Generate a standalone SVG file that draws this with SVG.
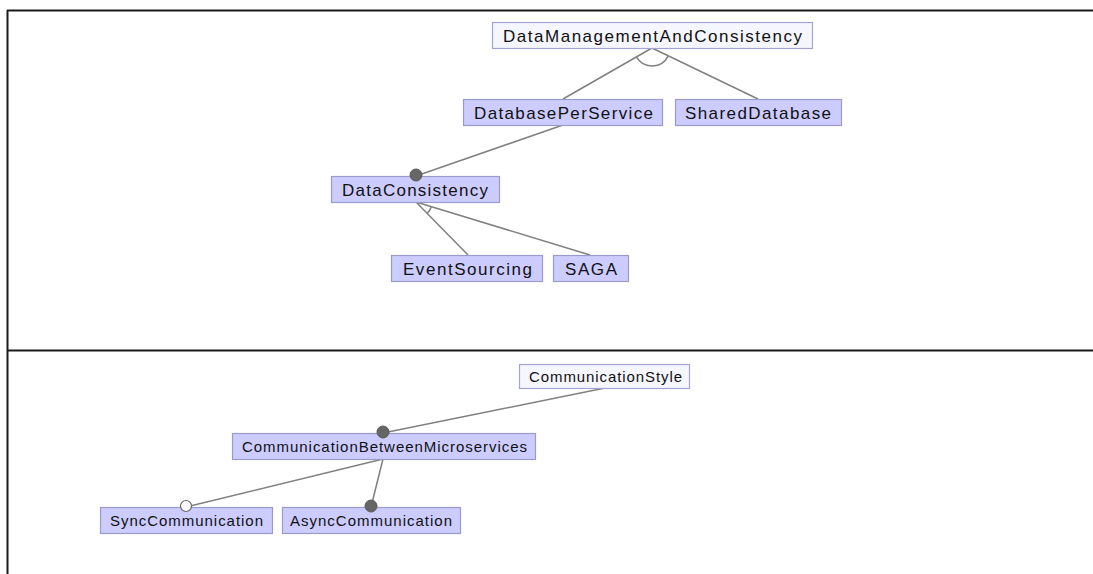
<svg xmlns="http://www.w3.org/2000/svg" width="1093" height="574" viewBox="0 0 1093 574">
  <defs>
    <style>
      .frame { stroke: #1a1a1a; stroke-width: 2; fill: none; }
      .edge { stroke: #808080; stroke-width: 1.5; fill: none; }
      .node rect { fill: #ccccff; stroke: #9a9acd; stroke-width: 1.2; }
      .node.root rect { fill: #f6f6ff; stroke: #a4a4d4; }
      .node text { font-family: "Liberation Sans", Arial, sans-serif; font-size: 15px; fill: #111; text-anchor: start; }
      .upper .node text { font-size: 17px; }
      .mand { fill: #666666; stroke: #5a5a5a; stroke-width: 1; }
      .opt { fill: #ffffff; stroke: #666666; stroke-width: 1.2; }
    </style>
  </defs>

  <rect width="1093" height="574" fill="#ffffff"/>

  <!-- table frame -->
  <g id="frame">
    <path class="frame" d="M7 10.5 H1093 M7.5 10 V574 M7 350.5 H1093"/>
  </g>

  <!-- connectors -->
  <g id="connectors">
    <path class="edge" d="M652 48 L563 99 M652 48 L758 99"/>
    <path class="edge" d="M636.4 56.9 A18 18 0 0 0 668.2 55.8"/>
    <path class="edge" d="M563 125 L416 176"/>
    <path class="edge" d="M416 202 L468 255 M416 202 L590 255"/>
    <path class="edge" d="M427.2 213.4 A16 16 0 0 0 431.3 206.7"/>
    <path class="edge" d="M605 388 L383 433"/>
    <path class="edge" d="M383 459 L186 507 M383 459 L371 507"/>
  </g>

  <g class="upper">
    <g id="n-dmc" class="node root">
      <rect x="492.5" y="22.5" width="320" height="26"/>
      <text x="503" y="41.5" textLength="299" lengthAdjust="spacing">DataManagementAndConsistency</text>
    </g>
    <g id="n-dps" class="node">
      <rect x="463.5" y="99.5" width="199" height="26"/>
      <text x="474" y="118.5" textLength="179" lengthAdjust="spacing">DatabasePerService</text>
    </g>
    <g id="n-sd" class="node">
      <rect x="675.5" y="99.5" width="166" height="26"/>
      <text x="685" y="118.5" textLength="146" lengthAdjust="spacing">SharedDatabase</text>
    </g>
    <g id="n-dc" class="node">
      <rect x="331.5" y="176.5" width="168" height="26"/>
      <text x="342" y="195.5" textLength="146" lengthAdjust="spacing">DataConsistency</text>
    </g>
    <g id="n-es" class="node">
      <rect x="391.5" y="255.5" width="151" height="26"/>
      <text x="403" y="274.5" textLength="129" lengthAdjust="spacing">EventSourcing</text>
    </g>
    <g id="n-saga" class="node">
      <rect x="553.5" y="255.5" width="75" height="26"/>
      <text x="565" y="274.5" textLength="52" lengthAdjust="spacing">SAGA</text>
    </g>
  </g>

  <g class="lower">
    <g id="n-cs" class="node root">
      <rect x="519.5" y="364.5" width="170" height="24"/>
      <text x="529" y="382" textLength="153" lengthAdjust="spacing">CommunicationStyle</text>
    </g>
    <g id="n-cbm" class="node">
      <rect x="232.5" y="433.5" width="303" height="26"/>
      <text x="242" y="452" textLength="285" lengthAdjust="spacing">CommunicationBetweenMicroservices</text>
    </g>
    <g id="n-sync" class="node">
      <rect x="100.5" y="507.5" width="172" height="26"/>
      <text x="110" y="526" textLength="153" lengthAdjust="spacing">SyncCommunication</text>
    </g>
    <g id="n-async" class="node">
      <rect x="282.5" y="507.5" width="178" height="26"/>
      <text x="290" y="526" textLength="162" lengthAdjust="spacing">AsyncCommunication</text>
    </g>
  </g>

  <!-- feature markers: filled = mandatory, open = optional -->
  <g id="markers">
    <circle class="mand" cx="416" cy="175" r="6"/>
    <circle class="mand" cx="383" cy="432" r="6"/>
    <circle class="opt" cx="186" cy="506" r="5.5"/>
    <circle class="mand" cx="371" cy="506" r="6"/>
  </g>
</svg>
